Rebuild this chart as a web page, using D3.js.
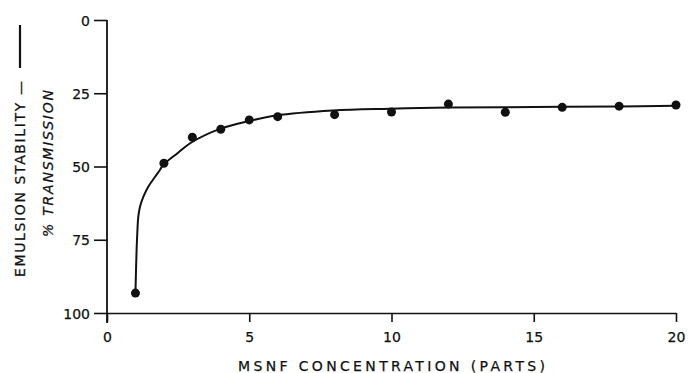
<!DOCTYPE html>
<html><head><meta charset="utf-8">
<script src="https://cdn.jsdelivr.net/npm/d3@7"></script>
<style>
body{margin:0;background:#fff;}
svg{display:block;}
text{font-family:"DejaVu Sans","Liberation Sans",sans-serif;fill:#111;stroke:#111;stroke-width:0.25px;}
</style></head>
<body><svg id="c" width="688" height="373"></svg>
<script>
const concentration = [1, 2, 3, 4, 5, 6, 8, 10, 12, 14, 16, 18, 20];
const transmission = [93.2, 48.9, 40.0, 37.3, 34.1, 33.0, 32.3, 31.4, 28.7, 31.5, 29.8, 29.4, 29.0];
const curveX = [1.0, 1.04, 1.07, 1.10, 1.16, 1.28, 1.45, 1.69, 1.86, 1.98, 2.5, 2.95, 4.02, 5.03, 5.94, 7.94, 9.93, 12, 15, 18, 20];
const curveY = [93.2, 78.5, 71.7, 67.1, 63.7, 60.3, 56.9, 53.5, 51.2, 49.4, 45.3, 41.9, 37.0, 34.4, 32.6, 30.9, 30.3, 29.9, 29.7, 29.5, 29.3];
const xTicks = [0, 5, 10, 15, 20];
const yTicks = [0, 25, 50, 75, 100];
const xTitle = "MSNF CONCENTRATION (PARTS)";
const yTitle1 = "EMULSION  STABILITY —";
const yTitle2 = "% TRANSMISSION";

const svg = d3.select("#c");
const x = d3.scaleLinear().domain([0, 20]).range([107, 676]);
const y = d3.scaleLinear().domain([0, 100]).range([20, 313]);

// y axis
const ya = svg.append("g").attr("transform", `translate(${x(0)},0)`)
  .call(d3.axisLeft(y).tickValues(yTicks).tickSize(13).tickSizeOuter(0).tickPadding(4));
ya.select(".domain").remove();
ya.selectAll(".tick line").attr("stroke", "#111").attr("stroke-width", 1.6);
ya.selectAll(".tick text").style("font-size", "14px").attr("dy", "0.36em");
svg.append("line").attr("x1", x(0)).attr("x2", x(0)).attr("y1", y(0)).attr("y2", y(100) + 10)
  .attr("stroke", "#111").attr("stroke-width", 1.8);

// x axis
const xa = svg.append("g").attr("transform", `translate(0,${y(100)})`)
  .call(d3.axisBottom(x).tickValues(xTicks).tickSize(9).tickSizeOuter(0).tickPadding(10));
xa.select(".domain").attr("stroke", "#111").attr("stroke-width", 1.6);
xa.selectAll(".tick line").attr("stroke", "#111").attr("stroke-width", 1.6);
xa.selectAll(".tick text").style("font-size", "14px");

// titles
svg.append("text").attr("x", 238).attr("y", 371)
  .attr("textLength", 307).attr("lengthAdjust", "spacing")
  .style("font-size", "14px").text(xTitle);
svg.append("text").attr("transform", "translate(25,277) rotate(-90)")
  .attr("textLength", 196).attr("lengthAdjust", "spacing")
  .style("font-size", "14px").text(yTitle1);
svg.append("line").attr("x1", 20).attr("x2", 20).attr("y1", 25).attr("y2", 68)
  .attr("stroke", "#111").attr("stroke-width", 2.2);
svg.append("text").attr("transform", "translate(53,237) rotate(-90)")
  .attr("textLength", 147).attr("lengthAdjust", "spacing")
  .style("font-size", "14px").style("font-style", "italic").text(yTitle2);

// curve
const curvePts = curveX.map((d, i) => [d, curveY[i]]);
svg.append("path").datum(curvePts)
  .attr("d", d3.line().x(d => x(d[0])).y(d => y(d[1])).curve(d3.curveCatmullRom.alpha(0.5)))
  .attr("fill", "none").attr("stroke", "#111").attr("stroke-width", 2);

// points
svg.selectAll("circle.pt").data(concentration).enter().append("circle")
  .attr("class", "pt").attr("cx", d => x(d)).attr("cy", (d, i) => y(transmission[i]))
  .attr("r", 4.5).attr("fill", "#111");
</script></body></html>
